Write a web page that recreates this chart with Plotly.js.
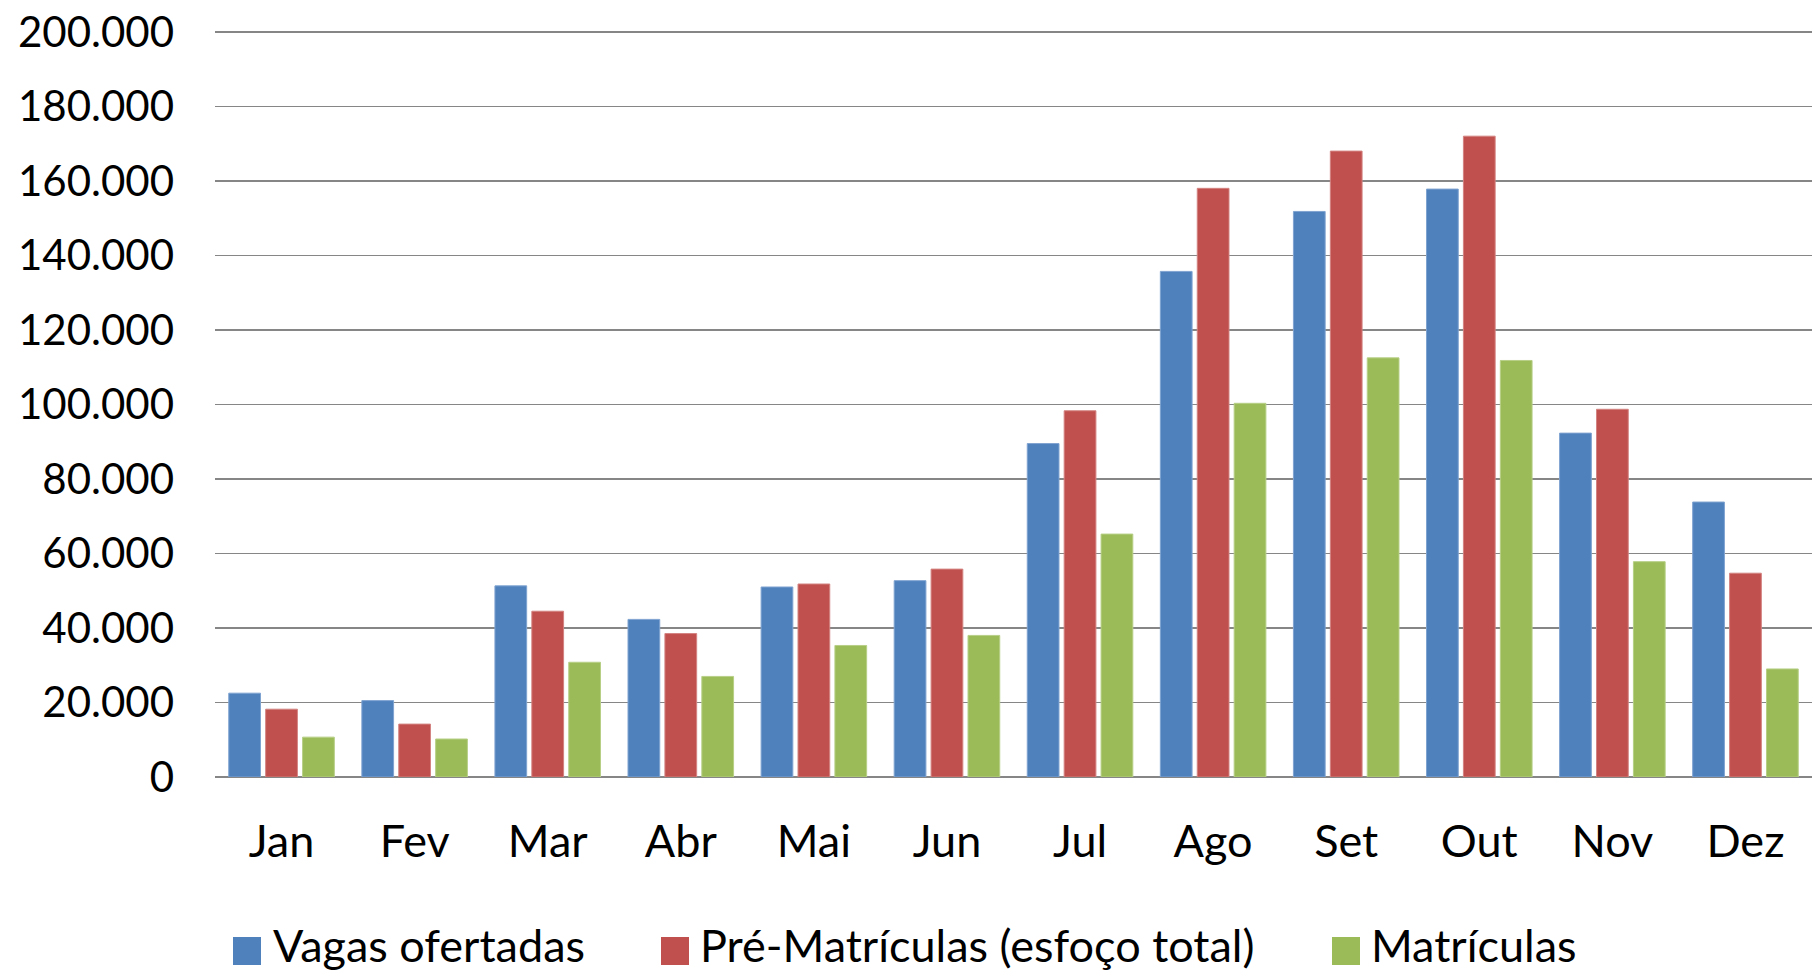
<!DOCTYPE html>
<html>
<head>
<meta charset="utf-8">
<script src="https://cdn.plot.ly/plotly-3.0.1.min.js"></script>
<style>html,body{margin:0;padding:0;background:#fff;}#chart{width:1812px;height:972px;}</style>
</head>
<body>
<div id="chart"></div>
<script>
const months = ["Jan","Fev","Mar","Abr","Mai","Jun","Jul","Ago","Set","Out","Nov","Dez"];
const vagasOfertadas = [22500, 20500, 51300, 42300, 51000, 52700, 89500, 135700, 151800, 157800, 92300, 73800];
const preMatriculas = [18200, 14200, 44500, 38500, 51800, 55800, 98300, 158000, 168000, 172000, 98700, 54700];
const matriculas = [10700, 10200, 30800, 27000, 35300, 38000, 65200, 100300, 112500, 111800, 57800, 29000];
const yTicks = [0, 20000, 40000, 60000, 80000, 100000, 120000, 140000, 160000, 180000, 200000];
const seriesNames = ["Vagas ofertadas", "Pré-Matrículas (esfoço total)", "Matrículas"];
const seriesColors = ["#4F81BD", "#C0504D", "#9BBB59"];
const borderColors = ["#7FA3D0", "#D38381", "#B6CF85"];

const FONT = "Lato, 'Open Sans', sans-serif";
const W = 1812, H = 972;
const mL = 215, mR = 0, mT = 30, mB = 195;
const plotW = W - mL - mR, plotH = H - mT - mB;

const values = [vagasOfertadas, preMatriculas, matriculas];
const traces = values.map((v, i) => ({
  type: "bar",
  name: seriesNames[i],
  x: months,
  y: v,
  marker: {color: seriesColors[i], line: {color: borderColors[i], width: 1}},
  showlegend: false,
  hoverinfo: "x+y+name"
}));

// manual legend (pixel positions converted to paper coords)
const px = X => (X - mL) / plotW;
const py = Y => (H - mB - Y) / plotH;
const legendItems = [
  {sq: 233, tx: 271},
  {sq: 661, tx: 698},
  {sq: 1332, tx: 1369}
];
const legY = 945, sqSize = 28;
const shapes = legendItems.map((it, i) => ({
  type: "rect", xref: "paper", yref: "paper",
  x0: px(it.sq), x1: px(it.sq + sqSize),
  y0: py(legY + 6 + sqSize / 2), y1: py(legY + 6 - sqSize / 2),
  fillcolor: seriesColors[i], line: {width: 0}
}));
const annotations = legendItems.map((it, i) => ({
  xref: "paper", yref: "paper", x: px(it.tx), y: py(legY),
  xanchor: "left", yanchor: "middle", showarrow: false,
  text: seriesNames[i], font: {family: FONT, size: 45, color: "#000"}
}));

const layout = {
  width: W, height: H,
  margin: {l: mL, r: mR, t: mT, b: mB, pad: 0},
  paper_bgcolor: "#fff", plot_bgcolor: "#fff",
  barmode: "group", bargap: 0.168, bargroupgap: 0.14,
  separators: ",.",
  font: {family: FONT, size: 42, color: "#000"},
  xaxis: {
    type: "category", showgrid: false, zeroline: false, showline: false,
    ticks: "", tickfont: {family: FONT, size: 45, color: "#000"},
    ticklabelstandoff: 34, fixedrange: true
  },
  yaxis: {
    range: [0, 200500], tickvals: yTicks,
    tickformat: ",d",
    showgrid: true, gridcolor: "#868686", gridwidth: 1.5,
    zeroline: true, zerolinecolor: "#868686", zerolinewidth: 1.5,
    showline: false, ticks: "",
    tickfont: {family: FONT, size: 42, color: "#000"},
    ticklabelstandoff: 40, fixedrange: true
  },
  shapes: shapes,
  annotations: annotations
};

Plotly.newPlot("chart", traces, layout, {displayModeBar: false, staticPlot: true});
</script>
</body>
</html>
